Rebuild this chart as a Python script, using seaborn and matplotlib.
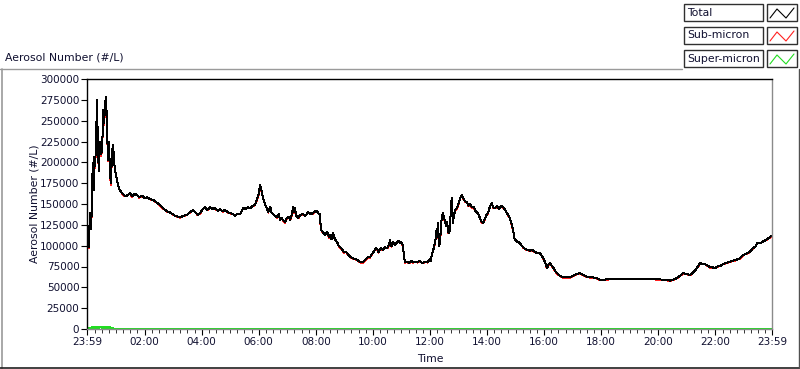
import numpy as np
import pandas as pd
import seaborn as sns
import matplotlib.pyplot as plt
from matplotlib.lines import Line2D
from matplotlib.patches import Rectangle

# -----------------------------
# data (minutes after 23:59, counts in #/L)
# -----------------------------
minutes = [
    0, 2, 4, 6, 9, 11, 13, 14, 15, 17, 19, 21, 23, 25, 27, 30, 32, 34, 36, 38,
    40, 42, 44, 46, 48, 50, 53, 55, 57, 59, 63, 67, 70, 74, 79, 84, 90, 95, 100, 105,
    110, 116, 121, 126, 132, 139, 146, 153, 158, 164, 169, 174, 180, 185, 190, 196, 203, 210, 216, 223,
    228, 233, 238, 243, 248, 253, 259, 264, 269, 275, 280, 285, 290, 296, 301, 307, 311, 315, 322, 328,
    333, 338, 343, 349, 353, 357, 361, 364, 366, 370, 374, 378, 381, 385, 388, 391, 395, 399, 403, 406,
    409, 412, 416, 420, 424, 427, 431, 433, 435, 437, 440, 444, 448, 454, 459, 465, 470, 475, 479, 483,
    486, 489, 492, 496, 500, 505, 509, 511, 514, 517, 521, 526, 529, 532, 536, 540, 544, 547, 551, 555,
    559, 564, 568, 572, 576, 580, 585, 589, 592, 595, 599, 603, 607, 610, 613, 617, 622, 626, 631, 635,
    637, 640, 643, 647, 652, 656, 658, 661, 664, 667, 669, 673, 677, 681, 685, 690, 695, 700, 705, 711,
    716, 721, 723, 725, 728, 730, 732, 735, 737, 738, 740, 742, 745, 748, 752, 755, 757, 760, 763, 765,
    767, 769, 771, 774, 778, 782, 785, 788, 791, 795, 799, 802, 805, 809, 813, 816, 819, 822, 826, 829,
    833, 837, 840, 843, 847, 851, 854, 858, 862, 866, 870, 875, 879, 883, 886, 889, 893, 896, 898, 900,
    904, 908, 910, 914, 919, 925, 931, 935, 938, 943, 948, 952, 956, 959, 963, 967, 970, 973, 977, 980,
    984, 988, 994, 1001, 1008, 1015, 1022, 1029, 1036, 1043, 1050, 1057, 1064, 1072, 1078, 1085, 1100, 1115, 1130, 1145,
    1160, 1175, 1190, 1205, 1218, 1226, 1233, 1240, 1247, 1253, 1260, 1268, 1273, 1278, 1284, 1289, 1294, 1299, 1305, 1310,
    1315, 1320, 1326, 1332, 1337, 1343, 1348, 1353, 1358, 1365, 1373, 1378, 1383, 1389, 1394, 1400, 1405, 1409, 1415, 1421,
    1425, 1430, 1435, 1440,
]

total = [
    95000, 101000, 98000, 139000, 120000, 182000, 199000, 167000, 206000, 195000,
    224000, 275000, 215000, 190000, 224000, 210000, 218000, 263000, 247000, 270000,
    278000, 247000, 203000, 225000, 193000, 175000, 215000, 221000, 200000, 191000,
    179000, 169000, 166000, 163000, 160000, 160000, 163000, 159000, 162000, 161000,
    158000, 160000, 157000, 158000, 156000, 155000, 152000, 149000, 146000, 143000,
    141000, 140000, 138000, 136000, 135000, 134000, 136000, 137000, 140000, 143000,
    140000, 137000, 139000, 144000, 146000, 143000, 146000, 144000, 145000, 142000,
    144000, 141000, 143000, 140000, 139000, 138000, 136000, 138000, 138000, 145000,
    144000, 146000, 145000, 148000, 149000, 155000, 162000, 173000, 168000, 158000,
    150000, 145000, 140000, 147000, 140000, 138000, 136000, 134000, 138000, 131000,
    133000, 131000, 128000, 133000, 135000, 131000, 138000, 146000, 140000, 145000,
    136000, 133000, 137000, 138000, 136000, 140000, 138000, 139000, 141000, 142000,
    139000, 138000, 119000, 116000, 113000, 116000, 110000, 113000, 108000, 115000,
    108000, 104000, 100000, 98000, 96000, 92000, 93000, 91000, 88000, 86000,
    85000, 84000, 83000, 81000, 80000, 80000, 83000, 85000, 87000, 86000,
    90000, 93000, 97000, 96000, 92000, 97000, 95000, 98000, 97000, 101000,
    107000, 99000, 104000, 101000, 104000, 106000, 103000, 104000, 100000, 85000,
    80000, 81000, 79000, 82000, 80000, 81000, 80000, 82000, 79000, 81000,
    80000, 84000, 82000, 90000, 95000, 100000, 104000, 120000, 110000, 127000,
    100000, 103000, 130000, 139000, 130000, 124000, 128000, 115000, 118000, 148000,
    157000, 127000, 135000, 143000, 145000, 152000, 158000, 161000, 157000, 153000,
    152000, 148000, 150000, 146000, 147000, 142000, 140000, 139000, 133000, 129000,
    127000, 133000, 137000, 139000, 147000, 151000, 146000, 145000, 148000, 144000,
    148000, 146000, 143000, 139000, 136000, 133000, 125000, 118000, 110000, 107000,
    105000, 104000, 103000, 100000, 97000, 95000, 94000, 95000, 94000, 92000,
    91000, 91000, 88000, 85000, 80000, 73000, 77000, 79000, 76000, 74000,
    70000, 67000, 64000, 62000, 62000, 62000, 64000, 66000, 67000, 65000,
    63000, 62000, 62000, 61000, 59000, 59000, 60000, 60000, 60000, 60500,
    60000, 60500, 60000, 59500, 59000, 58000, 59500, 61000, 64000, 67000,
    66000, 65000, 67000, 70000, 75000, 79000, 78000, 78000, 76000, 74000,
    74000, 73000, 75000, 76000, 78000, 79000, 80000, 81000, 82000, 83000,
    85000, 88000, 90000, 91000, 93000, 97000, 99000, 103000, 103000, 105000,
    106000, 108000, 110000, 112000,
]

# super-micron: small bumps in the first hour, then flat near zero
super_first_hour = [
    300, 400, 800, 1800, 600, 2000, 1900, 700, 2100, 2000,
    800, 2200, 2000, 900, 2100, 2200, 1000, 2300, 2200, 1900,
    900, 2100, 2000, 800, 1900, 1800, 700, 600, 500, 500, 450,
]
super_rest = 400

super_micron = np.array(super_first_hour + [super_rest] * (len(minutes) - len(super_first_hour)))
total = np.array(total)
sub_micron = total - super_micron

df = pd.concat([
    pd.DataFrame({"minute": minutes, "value": super_micron, "series": "Super-micron"}),
    pd.DataFrame({"minute": minutes, "value": sub_micron, "series": "Sub-micron"}),
    pd.DataFrame({"minute": minutes, "value": total, "series": "Total"}),
])

colors = {"Total": "#000000", "Sub-micron": "#ff2020", "Super-micron": "#22dd22"}

x_major = [0, 121, 241, 361, 481, 601, 721, 841, 961, 1081, 1201, 1321, 1440]
x_labels = ["23:59", "02:00", "04:00", "06:00", "08:00", "10:00", "12:00",
            "14:00", "16:00", "18:00", "20:00", "22:00", "23:59"]
y_ticks = list(range(0, 300001, 25000))

# -----------------------------
# plot
# -----------------------------
sns.set_style("white")
plt.rcParams["font.family"] = ["DejaVu Sans"]
txt = "#101030"

W, H = 800, 369
fig = plt.figure(figsize=(W / 100, H / 100), dpi=100)


def fx(x):
    return x / W


def fy(y):
    return 1 - y / H


ax = fig.add_axes([fx(87), fy(329), fx(772) - fx(87), fy(79) - fy(329)])

sns.lineplot(data=df, x="minute", y="value", hue="series",
             hue_order=["Super-micron", "Sub-micron", "Total"],
             palette=colors, linewidth=0.72, legend=False, ax=ax,
             estimator=None, sort=False, antialiased=False)

ax.set_xlim(0, 1440)
ax.set_ylim(0, 300000)
ax.set_xticks(x_major, x_labels)
ax.set_xticks([m for m in range(16, 1440, 15) if m not in x_major], minor=True)
ax.set_yticks(y_ticks, [str(v) for v in y_ticks])

ax.tick_params(axis="y", length=4, width=0.8, pad=1.5, labelsize=7.5,
               color="black", labelcolor=txt, left=True)
ax.tick_params(axis="x", which="major", length=4.5, width=0.8, pad=1.5,
               labelsize=7.5, color="black", labelcolor=txt, bottom=True)
ax.tick_params(axis="x", which="minor", length=3, width=0.7, color="#333333", bottom=True)

for side in ["left", "top"]:
    ax.spines[side].set_color("black")
    ax.spines[side].set_linewidth(1)
for side in ["right", "bottom"]:
    ax.spines[side].set_color("#8a8a8a")
    ax.spines[side].set_linewidth(1)

ax.set_xlabel("Time", fontsize=7.8, color=txt)
ax.xaxis.set_label_coords(0.5007, -0.10)
ax.set_ylabel("Aerosol Number (#/L)", fontsize=7.8, color=txt)
ax.yaxis.set_label_coords(-0.07, 0.5)

fig.text(fx(5), fy(57), "Aerosol Number (#/L)", fontsize=7.8, color=txt,
         ha="left", va="center")

# outer panel frame
fig.add_artist(Line2D([fx(0), fx(682)], [fy(69), fy(69)], color="#9a9a9a", lw=1))
fig.add_artist(Line2D([fx(1.5), fx(1.5)], [fy(69), fy(368)], color="#9a9a9a", lw=1.2))
fig.add_artist(Line2D([fx(0), fx(800)], [fy(367.5), fy(367.5)], color="#202020", lw=1.2))
fig.add_artist(Line2D([fx(798.5), fx(798.5)], [fy(69), fy(368)], color="#505050", lw=1))

# legend boxes (LabVIEW-style plot legend)
legend_rows = [("Total", 4), ("Sub-micron", 27), ("Super-micron", 50)]
for name, top in legend_rows:
    fig.add_artist(Rectangle((fx(684), fy(top + 17)), fx(763) - fx(684), fy(top) - fy(top + 17),
                             transform=fig.transFigure, facecolor="white",
                             edgecolor="#303030", lw=1))
    fig.add_artist(Rectangle((fx(767), fy(top + 17)), fx(797) - fx(767), fy(top) - fy(top + 17),
                             transform=fig.transFigure, facecolor="white",
                             edgecolor="#303030", lw=1))
    fig.text(fx(687), fy(top + 8.5), name, fontsize=7.8, color=txt,
             ha="left", va="center")
    zx = [fx(770), fx(777), fx(786), fx(794)]
    zy = [fy(top + 14), fy(top + 5), fy(top + 14), fy(top + 4)]
    fig.add_artist(Line2D(zx, zy, color=colors[name], lw=0.8))

fig.savefig("out.png", dpi=100)
